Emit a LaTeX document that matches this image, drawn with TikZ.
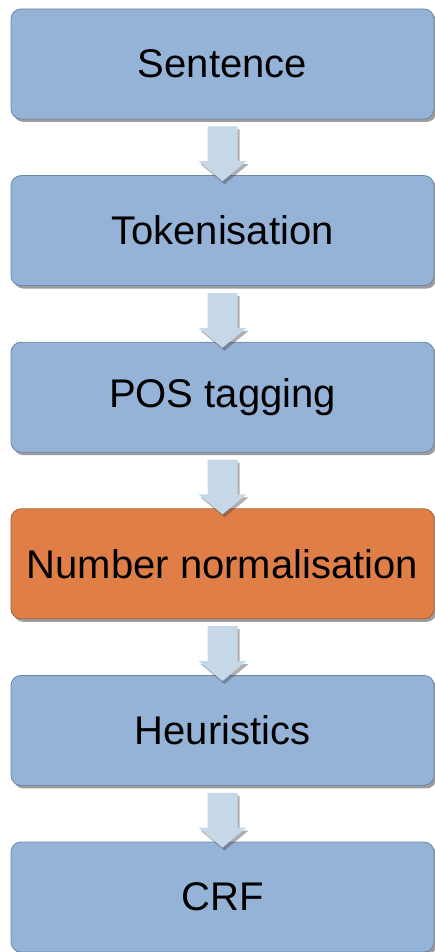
\documentclass[tikz,border=0pt]{standalone}
\usepackage{fontspec}
\setmainfont{Liberation Sans}
\usetikzlibrary{shadows,calc}
\definecolor{boxblue}{HTML}{95B3D7}
\definecolor{boxblueline}{HTML}{6C87A8}
\definecolor{boxorange}{HTML}{DF7F47}
\definecolor{boxorangeline}{HTML}{A8602F}
\definecolor{arrowblue}{HTML}{C6D7E7}
\tikzset{
  stagebox/.style={rounded corners=10pt, minimum width=423pt, minimum height=110pt,
    fill=boxblue, draw=boxblueline, line width=0.8pt, inner sep=0pt,
    font=\fontsize{40}{48}\selectfont,
    drop shadow={shadow xshift=2.5pt, shadow yshift=-3pt, opacity=0.55, fill=black!70}},
  hilite/.style={fill=boxorange, draw=boxorangeline},
  blockarrow/.style={fill=arrowblue, draw=none,
    drop shadow={shadow xshift=2pt, shadow yshift=-3pt, opacity=0.45, fill=black!70}}
}
\newcommand{\flowarrow}[2]{%
  \path let \p1=(#1.south), \p2=(#2.north) in
    coordinate (t) at (\x1,\y2-6pt)
    coordinate (s) at (\x1,\y1-7pt);
  \path[blockarrow] ($(s)+(-15pt,0)$) -- ($(s)+(15pt,0)$) -- ($(t)+(15pt,20pt)$) -- ($(t)+(24pt,20pt)$)
    -- (t) -- ($(t)+(-24pt,20pt)$) -- ($(t)+(-15pt,20pt)$) -- cycle;
}
\begin{document}
\begin{tikzpicture}[x=1pt,y=1pt]
\useasboundingbox (0,0) rectangle (435,-952);
\node[stagebox] (n1) at (222.5,-64) {Sentence};
\node[stagebox] (n2) at (222.5,-230.6) {Tokenisation};
\node[stagebox] (n3) at (222.5,-397.2) {POS tagging};
\node[stagebox,hilite] (n4) at (222.5,-563.8) {Number normalisation};
\node[stagebox] (n5) at (222.5,-730.4) {Heuristics};
\node[stagebox] (n6) at (222.5,-897) {CRF};
\flowarrow{n1}{n2}
\flowarrow{n2}{n3}
\flowarrow{n3}{n4}
\flowarrow{n4}{n5}
\flowarrow{n5}{n6}
\end{tikzpicture}
\end{document}
